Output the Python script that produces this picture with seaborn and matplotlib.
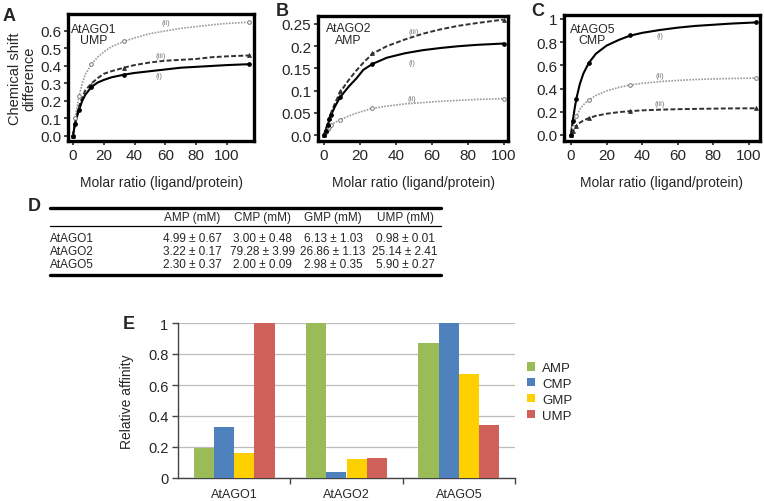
import numpy as np
import pandas as pd
import matplotlib
matplotlib.use("Agg")
import matplotlib.pyplot as plt
import seaborn as sns

# ---------------- data ----------------
# Panel A: AtAGO1 + UMP
A_curve_x = [0, 1, 2, 4, 6, 8, 12, 16, 20, 25, 33, 40, 50, 60, 70, 80, 90, 100, 114]
A_i_curve = [0, 0.05, 0.09, 0.15, 0.20, 0.235, 0.28, 0.305, 0.32, 0.335, 0.35, 0.36, 0.37, 0.38, 0.39, 0.395, 0.40, 0.405, 0.41]
A_ii_curve = [0, 0.07, 0.13, 0.23, 0.30, 0.35, 0.41, 0.45, 0.48, 0.51, 0.54, 0.56, 0.585, 0.60, 0.615, 0.625, 0.635, 0.643, 0.65]
A_iii_curve = [0, 0.06, 0.10, 0.17, 0.22, 0.26, 0.30, 0.33, 0.355, 0.37, 0.39, 0.405, 0.42, 0.43, 0.435, 0.44, 0.45, 0.455, 0.46]
A_pts_x = [0, 1.5, 4, 12, 33, 114]
A_i_pts = [0, 0.07, 0.15, 0.28, 0.35, 0.41]
A_ii_pts = [0, 0.10, 0.23, 0.41, 0.54, 0.65]
A_iii_pts = [0, 0.08, 0.16, 0.29, 0.39, 0.46]

# Panel B: AtAGO2 + AMP
B_curve_x = [0, 2, 4, 6, 8, 10, 14, 18, 22, 27, 35, 45, 55, 65, 75, 85, 100]
B_i_curve = [0, 0.022, 0.045, 0.063, 0.078, 0.09, 0.11, 0.127, 0.147, 0.16, 0.174, 0.184, 0.191, 0.196, 0.200, 0.203, 0.206]
B_ii_curve = [0, 0.013, 0.022, 0.028, 0.032, 0.036, 0.043, 0.049, 0.054, 0.06, 0.065, 0.07, 0.073, 0.076, 0.078, 0.080, 0.082]
B_iii_curve = [0, 0.025, 0.05, 0.07, 0.088, 0.102, 0.125, 0.145, 0.163, 0.183, 0.20, 0.215, 0.228, 0.238, 0.246, 0.252, 0.26]
B_pts_x = [0, 1, 2, 3, 4, 9, 27, 100]
B_i_pts = [0, 0.01, 0.022, 0.035, 0.045, 0.085, 0.16, 0.205]
B_ii_pts = [0, 0.007, 0.013, 0.018, 0.022, 0.033, 0.06, 0.082]
B_iii_pts = [0, 0.012, 0.025, 0.038, 0.05, 0.10, 0.185, 0.26]

# Panel C: AtAGO5 + CMP
C_curve_x = [0, 1, 2, 3, 5, 7, 10, 14, 20, 27, 33, 40, 50, 60, 70, 80, 90, 104]
C_i_curve = [0, 0.12, 0.22, 0.31, 0.44, 0.53, 0.62, 0.70, 0.77, 0.82, 0.855, 0.88, 0.905, 0.925, 0.94, 0.95, 0.96, 0.97]
C_ii_curve = [0, 0.07, 0.12, 0.16, 0.22, 0.26, 0.30, 0.34, 0.38, 0.41, 0.43, 0.445, 0.46, 0.47, 0.478, 0.483, 0.487, 0.49]
C_iii_curve = [0, 0.035, 0.06, 0.08, 0.105, 0.125, 0.145, 0.165, 0.183, 0.197, 0.205, 0.212, 0.218, 0.222, 0.225, 0.227, 0.229, 0.23]
C_pts_x = [0, 1, 3, 10, 33, 104]
C_i_pts = [0, 0.12, 0.31, 0.62, 0.86, 0.97]
C_ii_pts = [0, 0.07, 0.16, 0.30, 0.43, 0.49]
C_iii_pts = [0, 0.035, 0.08, 0.145, 0.205, 0.23]

# Panel D: dissociation constants table
table_proteins = ["AtAGO1", "AtAGO2", "AtAGO5"]
table_headers = ["AMP (mM)", "CMP (mM)", "GMP (mM)", "UMP (mM)"]
table_cells = [
    ["4.99 \u00b1 0.67", "3.00 \u00b1 0.48", "6.13 \u00b1 1.03", "0.98 \u00b1 0.01"],
    ["3.22 \u00b1 0.17", "79.28 \u00b1 3.99", "26.86 \u00b1 1.13", "25.14 \u00b1 2.41"],
    ["2.30 \u00b1 0.37", "2.00 \u00b1 0.09", "2.98 \u00b1 0.35", "5.90 \u00b1 0.27"],
]

# Panel E: relative affinity
E_proteins = ["AtAGO1", "AtAGO2", "AtAGO5"]
E_nucleotides = ["AMP", "CMP", "GMP", "UMP"]
E_AMP = [0.196, 1.0, 0.87]
E_CMP = [0.327, 0.041, 1.0]
E_GMP = [0.16, 0.12, 0.67]
E_UMP = [1.0, 0.128, 0.339]
E_colors = ["#9BBB59", "#4F81BD", "#FFD000", "#D0605A"]

# ---------------- style ----------------
sns.set_style("ticks")
plt.rcParams["font.family"] = ["Liberation Sans", "DejaVu Sans"]

W, H = 764, 502
fig = plt.figure(figsize=(W / 100, H / 100), dpi=100)


def px(x0, y0, x1, y1):
    return [x0 / W, 1 - y1 / H, (x1 - x0) / W, (y1 - y0) / H]


styles = {
    "i": dict(color="black", lw=1.5, ls="-", marker="o", mfc="black", mec="black"),
    "ii": dict(color="#9a9a9a", lw=1.2, ls=(0, (1, 0.8)), marker="o", mfc="white", mec="#777777"),
    "iii": dict(color="#303030", lw=1.4, ls=(0, (2.5, 1.2)), marker="^", mfc="#303030", mec="#303030"),
}


def curve_panel(rect, curves, pts_x, pts, xlim, ylim, yticks, ylabels, title, labels):
    ax = fig.add_axes(px(*rect))
    for key in ["ii", "iii", "i"]:
        st = styles[key]
        cx, cy = curves[key]
        sns.lineplot(x=cx, y=cy, ax=ax, color=st["color"], lw=st["lw"],
                     linestyle=st["ls"], sort=False, errorbar=None)
        sns.scatterplot(x=pts_x, y=pts[key], ax=ax, marker=st["marker"], s=7,
                        color=st["mfc"], edgecolor=st["mec"], linewidth=0.7, zorder=5)
    for key, (lx, ly) in labels.items():
        ax.text(lx, ly, f"({key})", fontsize=5.5, color="#777777", ha="center", va="center")
    ax.set_xlim(*xlim)
    ax.set_ylim(*ylim)
    ax.set_xticks([0, 20, 40, 60, 80, 100])
    ax.set_yticks(yticks)
    ax.set_yticklabels(ylabels)
    for s in ax.spines.values():
        s.set_linewidth(2.4)
        s.set_color("black")
        s.set_visible(True)
    ax.tick_params(labelsize=11, length=3, width=1.2, pad=2, direction="out")
    ax.set_xlabel("Molar ratio (ligand/protein)", fontsize=10)
    ax.xaxis.set_label_coords(0.5, -0.27)
    ax.text(title[0], title[1], title[2], transform=ax.transAxes, ha="center", va="top",
            fontsize=8.8, linespacing=0.95)
    return ax


axA = curve_panel((68, 15, 254, 142),
                  {"i": (A_curve_x, A_i_curve), "ii": (A_curve_x, A_ii_curve), "iii": (A_curve_x, A_iii_curve)},
                  A_pts_x, {"i": A_i_pts, "ii": A_ii_pts, "iii": A_iii_pts},
                  (-3.2, 117.5), (-0.029, 0.697),
                  [0, 0.1, 0.2, 0.3, 0.4, 0.5, 0.6], ["0.0", "0.1", "0.2", "0.3", "0.4", "0.5", "0.6"],
                  (0.14, 0.93, "AtAGO1\nUMP"),
                  {"ii": (60, 0.646), "iii": (57, 0.457), "i": (56, 0.345)})
axA.set_ylabel("Chemical shift\ndifference", fontsize=10.5, linespacing=1.0)
axA.yaxis.set_label_coords(-0.17, 0.5)

axB = curve_panel((318, 17, 508, 142),
                  {"i": (B_curve_x, B_i_curve), "ii": (B_curve_x, B_ii_curve), "iii": (B_curve_x, B_iii_curve)},
                  B_pts_x, {"i": B_i_pts, "ii": B_ii_pts, "iii": B_iii_pts},
                  (-3.3, 102.5), (-0.0135, 0.268),
                  [0, 0.05, 0.1, 0.15, 0.2, 0.25], ["0.0", "0.05", "0.1", "0.15", "0.2", "0.25"],
                  (0.16, 0.95, "AtAGO2\nAMP"),
                  {"iii": (50, 0.234), "i": (49, 0.164), "ii": (49, 0.083)})

axC = curve_panel((564, 16, 760, 142),
                  {"i": (C_curve_x, C_i_curve), "ii": (C_curve_x, C_ii_curve), "iii": (C_curve_x, C_iii_curve)},
                  C_pts_x, {"i": C_i_pts, "ii": C_ii_pts, "iii": C_iii_pts},
                  (-3.9, 106.2), (-0.052, 1.034),
                  [0, 0.2, 0.4, 0.6, 0.8, 1.0], ["0.0", "0.2", "0.4", "0.6", "0.8", "1"],
                  (0.145, 0.94, "AtAGO5\nCMP"),
                  {"i": (50, 0.86), "ii": (50, 0.51), "iii": (50, 0.27)})

# ---------------- table D ----------------
axD = fig.add_axes(px(45, 203, 445, 282))
axD.set_xlim(45, 445)
axD.set_ylim(282, 203)
axD.axis("off")
tfs = 8.5
axD.plot([50, 441], [209, 209], color="black", lw=2.4)
axD.plot([50, 441], [227, 227], color="black", lw=0.9)
axD.plot([50, 441], [276, 276], color="black", lw=2.4)
col_x = [192, 262, 333, 405]
row_y = [239, 252, 265]
for cx, h in zip(col_x, table_headers):
    axD.text(cx, 218.5, h, ha="center", va="center", fontsize=tfs)
for ry, name, cells in zip(row_y, table_proteins, table_cells):
    axD.text(50, ry, name, ha="left", va="center", fontsize=tfs)
    for cx, c in zip(col_x, cells):
        axD.text(cx, ry, c, ha="center", va="center", fontsize=tfs)

# ---------------- bar chart E ----------------
dfE = pd.DataFrame({
    "protein": E_proteins * 4,
    "nucleotide": sum([[n] * 3 for n in E_nucleotides], []),
    "affinity": E_AMP + E_CMP + E_GMP + E_UMP,
})
axE = fig.add_axes(px(178, 324, 515, 479))
sns.barplot(data=dfE, x="protein", y="affinity", hue="nucleotide", order=E_proteins,
            hue_order=E_nucleotides, palette=E_colors, width=0.72, saturation=1,
            ax=axE, linewidth=0, zorder=3)
axE.set_xlim(-0.5, 2.5)
axE.set_ylim(0, 1)
axE.set_yticks([0, 0.2, 0.4, 0.6, 0.8, 1.0])
axE.set_yticklabels(["0", "0.2", "0.4", "0.6", "0.8", "1"])
axE.yaxis.grid(True, color="#bdbdbd", lw=0.9, zorder=0)
axE.set_axisbelow(True)
sns.despine(ax=axE)
axE.spines["left"].set_color("#444444")
axE.spines["bottom"].set_color("#444444")
axE.spines["left"].set_linewidth(1.0)
axE.spines["bottom"].set_linewidth(1.0)
axE.set_xticks([0.5, 1.5, 2.5], minor=True)
axE.tick_params(axis="x", which="major", length=0, pad=7, labelsize=9)
axE.tick_params(axis="x", which="minor", length=4, width=1, color="#444444", direction="out")
axE.tick_params(axis="y", length=4, width=1, color="#444444", labelsize=10.5, pad=3)
axE.set_xlabel("")
axE.set_ylabel("Relative affinity", fontsize=10)
axE.yaxis.set_label_coords(-0.13, 0.5)
axE.legend(loc="upper left", bbox_to_anchor=(527 / W, 1 - 363 / H), bbox_transform=fig.transFigure,
           frameon=False, fontsize=9.5, handlelength=0.6, handleheight=0.6,
           handletextpad=0.55, labelspacing=0.3, borderpad=0, borderaxespad=0)

# ---------------- panel letters ----------------
for letter, x, y in [("A", 3, 21), ("B", 276, 16), ("C", 531, 16), ("D", 28, 211), ("E", 123, 329)]:
    fig.text(x / W, 1 - y / H, letter, fontsize=13, fontweight="bold", ha="left", va="baseline")

fig.savefig("out.png", dpi=100)
